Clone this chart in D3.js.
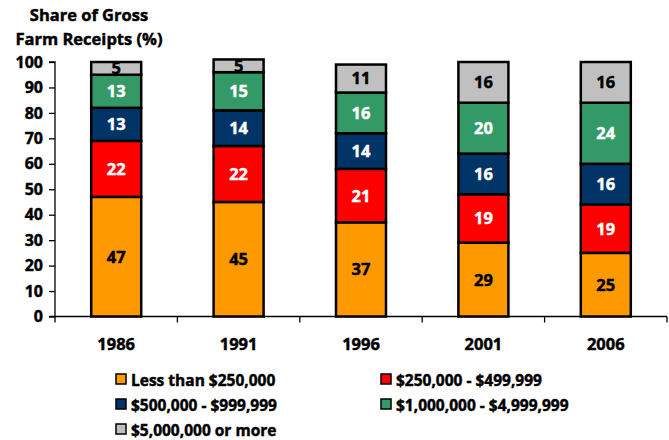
<!DOCTYPE html>
<html><head><meta charset="utf-8">
<script src="https://cdnjs.cloudflare.com/ajax/libs/d3/7.8.5/d3.min.js"></script>
<style>body{margin:0;background:#fff}svg{display:block}text{font-family:"Open Sans",sans-serif;font-weight:700;stroke-width:0.45px}</style>
</head><body><svg id="c" width="669" height="440"></svg>
<script>
const years = ["1986","1991","1996","2001","2006"];
const seriesNames = ["Less than $250,000","$250,000 - $499,999","$500,000 - $999,999","$1,000,000 - $4,999,999","$5,000,000 or more"];
const under250 = [47,45,37,29,25];
const s250to500 = [22,22,21,19,19];
const s500to1m = [13,14,14,16,16];
const s1mto5m = [13,15,16,20,24];
const over5m = [5,5,11,16,16];
const yTicks = [0,10,20,30,40,50,60,70,80,90,100];
const colors = ["#FF9900","#FF0000","#003366","#339966","#C0C0C0"];
const labelColors = ["#000","#fff","#fff","#fff","#000"];

const seriesVals = [under250,s250to500,s500to1m,s1mto5m,over5m];
const table = years.map((y,i)=>{const o={year:y}; seriesNames.forEach((n,k)=>o[n]=seriesVals[k][i]); return o;});
const stack = d3.stack().keys(seriesNames)(table);

const svg = d3.select("#c");
const x = d3.scaleBand().domain(years).range([55,667]).paddingInner(0).paddingOuter(0);
const y = d3.scaleLinear().domain([0,100]).range([316.5,62]);
const bw = 50;

// y axis
const ya = svg.append("g").attr("transform","translate(55,0)")
  .call(d3.axisLeft(y).tickValues(yTicks).tickSize(6).tickPadding(6));
ya.select(".domain").attr("stroke","#000").attr("stroke-width",1.3).attr("d","M-6,62H0V316.5H-6");
ya.selectAll(".tick line").attr("stroke","#000").attr("stroke-width",1.3);
ya.selectAll("text").attr("font-size",16).attr("fill","#000").attr("stroke","#000")
  .attr("font-family","'Open Sans',sans-serif").attr("font-weight",700);

// x axis
const xa = svg.append("g").attr("transform","translate(0,316.5)");
xa.append("line").attr("x1",55).attr("x2",667).attr("stroke","#000").attr("stroke-width",1.3);
const bounds = years.map(d=>x(d)).concat([x(years[years.length-1])+x.bandwidth()]);
xa.selectAll(".xt").data(bounds).enter().append("line")
  .attr("x1",d=>d).attr("x2",d=>d).attr("y1",0).attr("y2",6).attr("stroke","#000").attr("stroke-width",1.3);
xa.selectAll(".xl").data(years).enter().append("text")
  .attr("x",d=>x(d)+x.bandwidth()/2).attr("y",33).attr("text-anchor","middle").attr("font-size",16.5)
  .attr("fill","#000").attr("stroke","#000").text(d=>d);

// bars
stack.forEach((layer,k)=>{
  const g = svg.append("g");
  g.selectAll("rect").data(layer).enter().append("rect")
    .attr("x",d=>x(d.data.year)+x.bandwidth()/2-bw/2)
    .attr("width",bw)
    .attr("y",d=>y(d[1]))
    .attr("height",d=>y(d[0])-y(d[1]))
    .attr("fill",colors[k]).attr("stroke","#000").attr("stroke-width",2.5);
  g.selectAll("text").data(layer).enter().append("text")
    .attr("x",d=>x(d.data.year)+x.bandwidth()/2)
    .attr("y",d=>(y(d[0])+y(d[1]))/2)
    .attr("dy","0.36em").attr("text-anchor","middle").attr("font-size",16.5)
    .attr("fill",labelColors[k]).attr("stroke",labelColors[k]).text(d=>d[1]-d[0]);
});

// title
svg.append("text").attr("x",89).attr("y",21).attr("text-anchor","middle").attr("font-size",16.5)
  .attr("fill","#000").attr("stroke","#000").text("Share of Gross");
svg.append("text").attr("x",89).attr("y",45).attr("text-anchor","middle").attr("font-size",16.5)
  .attr("fill","#000").attr("stroke","#000").text("Farm Receipts (%)");

// legend
const legPos = [[116,380],[381,380],[116,405],[381,405],[116,430]];
seriesNames.forEach((n,k)=>{
  const [lx,ly]=legPos[k];
  svg.append("rect").attr("x",lx).attr("y",ly-6).attr("width",10).attr("height",10)
    .attr("fill",colors[k]).attr("stroke","#000").attr("stroke-width",1.5);
  svg.append("text").attr("x",lx+15).attr("y",ly).attr("dy","0.36em").attr("font-size",15.5)
    .attr("fill","#000").attr("stroke","#000").text(n);
});
</script></body></html>
